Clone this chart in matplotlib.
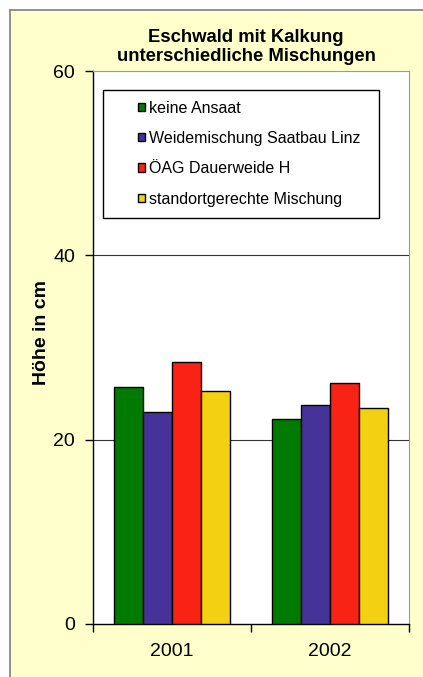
import matplotlib.pyplot as plt
from matplotlib.patches import Rectangle
import numpy as np

# daten
jahre = ["2001", "2002"]
mischungen = ["keine Ansaat", "Weidemischung Saatbau Linz",
              "ÖAG Dauerweide H", "standortgerechte Mischung"]
hoehe_keine = [25.7, 22.2]
hoehe_weide = [23.0, 23.8]
hoehe_oeag = [28.4, 26.2]
hoehe_standort = [25.3, 23.4]
farben = ["#007A00", "#46339A", "#F82215", "#F4D012"]

plt.rcParams["font.family"] = ["Liberation Sans", "DejaVu Sans"]

fig = plt.figure(figsize=(4.23, 6.77), dpi=100, facecolor="white")

# hintergrund mit grauem rand (wie excel)
fig.patches.append(Rectangle((10 / 423, -0.01), 1.0, (677 - 9.5) / 677 + 0.01,
                             transform=fig.transFigure, facecolor="#FFFFCC",
                             edgecolor="#888888", linewidth=1.3, zorder=-10))

ax = fig.add_axes([93 / 423, 53 / 677, 316 / 423, 553 / 677])
ax.set_facecolor("white")

x = np.arange(len(jahre))
breite = 0.182
serien = [hoehe_keine, hoehe_weide, hoehe_oeag, hoehe_standort]
for k, werte in enumerate(serien):
    ax.bar(x + (k - 1.5) * breite, werte, breite, color=farben[k],
           edgecolor="black", linewidth=1.0, label=mischungen[k], zorder=3)

ax.set_xlim(-0.5, 1.5)
ax.set_ylim(0, 60)
ax.set_yticks([0, 20, 40, 60])
ax.set_xticks(x)
ax.set_xticklabels(jahre)
ax.set_xticks([-0.5, 0.5, 1.5], minor=True)
ax.tick_params(axis="x", which="major", length=0, pad=14, labelsize=14)
ax.tick_params(axis="x", which="minor", length=6, width=1, direction="out")
ax.tick_params(axis="y", length=6, width=1, direction="out", pad=7, labelsize=14)

for yy in [20, 40]:
    ax.axhline(yy, color="#333333", linewidth=0.8, zorder=1)

for s in ["top", "right"]:
    ax.spines[s].set_color("#999999")
ax.spines["left"].set_linewidth(1)
ax.spines["bottom"].set_linewidth(1)

ax.set_ylabel("Höhe in cm", fontsize=14, fontweight="bold")
ax.yaxis.set_label_coords(-0.135, 0.528)

fig.text(246 / 423, 1 - 47 / 677, "Eschwald mit Kalkung\nunterschiedliche Mischungen",
         ha="center", va="center", fontsize=13.3, fontweight="bold", linespacing=1.2)

# legende mit eigenem rahmen
ax.add_patch(Rectangle((0.0316, 0.734), 0.8734, 0.2316, transform=ax.transAxes,
                       facecolor="white", edgecolor="black", linewidth=1, zorder=4))
ax.legend(loc="upper left", bbox_to_anchor=(0.118, 0.961), frameon=False,
          borderpad=0, fontsize=11.5, handlelength=0.45, handleheight=0.45,
          handletextpad=0.22, labelspacing=0.96).set_zorder(5)

fig.savefig("out.png", dpi=100)
